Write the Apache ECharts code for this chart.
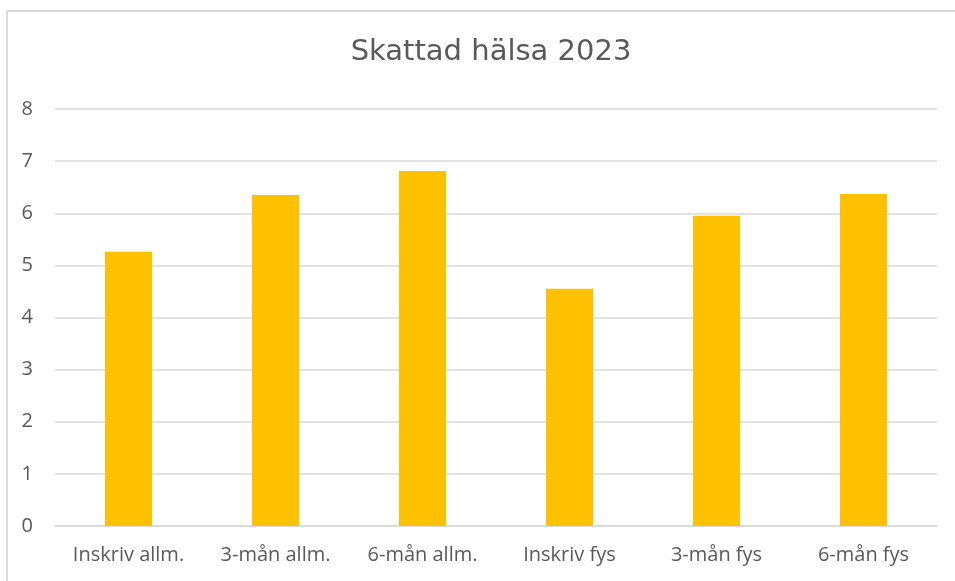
<!DOCTYPE html>
<html>
<head>
<meta charset="utf-8">
<script src="https://cdn.jsdelivr.net/npm/echarts@6/dist/echarts.min.js"></script>
<style>
  html, body { margin: 0; padding: 0; background: #fff; }
  #chart { width: 955px; height: 581px; }
</style>
</head>
<body>
<div id="chart"></div>
<script>
// kategorier och värden
const categories = ['Inskriv allm.', '3-mån allm.', '6-mån allm.', 'Inskriv fys', '3-mån fys', '6-mån fys'];
const values = [5.26, 6.35, 6.81, 4.55, 5.95, 6.37];
const titleText = 'Skattad hälsa 2023';

var myChart = echarts.init(document.getElementById('chart'));
var fontFam = '"Open Sans", "Noto Sans", sans-serif';

var option = {
  backgroundColor: '#ffffff',
  animation: false,
  textStyle: { fontFamily: fontFam },
  title: {
    text: titleText,
    left: 486,
    top: 33,
    textAlign: 'center',
    textStyle: {
      fontSize: 29,
      fontWeight: 'normal',
      color: '#595959',
      fontFamily: '"DejaVu Sans", sans-serif'
    }
  },
  // ram runt diagrammet
  graphic: [
    {
      type: 'rect',
      shape: { x: 7, y: 11, width: 1000, height: 700 },
      style: { fill: 'none', stroke: '#d9d9d9', lineWidth: 2 },
      silent: true
    }
  ],
  grid: {
    left: 55,
    right: 18,
    top: 109,
    bottom: 55,
    containLabel: false
  },
  xAxis: {
    type: 'category',
    data: categories,
    axisLine: { show: true, lineStyle: { color: '#d9d9d9', width: 1.5 } },
    axisTick: { show: false },
    axisLabel: {
      color: '#595959',
      fontSize: 20,
      margin: 19,
      fontFamily: fontFam
    }
  },
  yAxis: {
    type: 'value',
    min: 0,
    max: 8,
    interval: 1,
    axisLine: { show: false },
    axisTick: { show: false },
    splitLine: { lineStyle: { color: '#d9d9d9', width: 1.5 } },
    axisLabel: {
      color: '#595959',
      fontSize: 20,
      margin: 22,
      fontFamily: fontFam
    }
  },
  series: [
    {
      name: titleText,
      type: 'bar',
      data: values,
      barWidth: '32%',
      itemStyle: { color: '#FFC000' }
    }
  ]
};

myChart.setOption(option);
</script>
</body>
</html>
